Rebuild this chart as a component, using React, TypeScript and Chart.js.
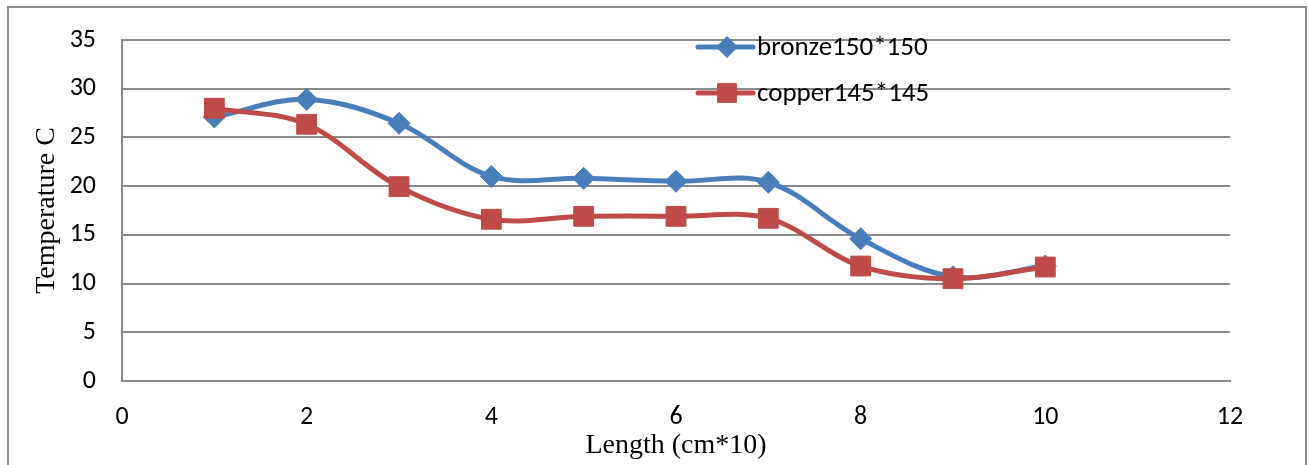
import React, { useEffect, useRef } from "react";
import { Chart, registerables } from "chart.js";

Chart.register(...registerables);

// Length positions along the bar (cm*10)
const lengths = [1, 2, 3, 4, 5, 6, 7, 8, 9, 10];
// Measured temperatures (°C)
const bronze = [27.1, 28.9, 26.45, 21.0, 20.8, 20.5, 20.4, 14.6, 10.7, 11.8];
const copper = [28.0, 26.35, 19.95, 16.6, 16.9, 16.9, 16.7, 11.8, 10.5, 11.7];

const seriesNames = ["bronze150*150", "copper145*145"];
const seriesColors = ["#4A7EBB", "#BE4B48"];

const xTicks = { min: 0, max: 12, step: 2 };
const yTicks = { min: 0, max: 35, step: 5 };

const xTitle = "Length (cm*10)";
const yTitle = "Temperature C";

const SANS = "Carlito, Lato, sans-serif";
const SERIF = "'Liberation Serif', 'Times New Roman', serif";

const CANVAS_W = 1296;
const CANVAS_H = 470;

// Legend drawn inside the plot area, near the top
const insideLegend = {
  id: "insideLegend",
  afterDatasetsDraw(chart: any) {
    const { ctx, chartArea } = chart;
    const x0 = chartArea.left + 576;
    const rows = [chartArea.top + 7, chartArea.top + 53];
    ctx.save();
    chart.data.datasets.forEach((ds: any, i: number) => {
      const y = rows[i];
      ctx.strokeStyle = ds.borderColor;
      ctx.lineWidth = ds.borderWidth;
      ctx.lineCap = "round";
      ctx.beginPath();
      ctx.moveTo(x0, y);
      ctx.lineTo(x0 + 55, y);
      ctx.stroke();
      ctx.fillStyle = ds.backgroundColor;
      const cx = x0 + 29;
      if (ds.pointStyle === "rectRot") {
        const r = ds.pointRadius;
        ctx.beginPath();
        ctx.moveTo(cx - r, y);
        ctx.lineTo(cx, y - r);
        ctx.lineTo(cx + r, y);
        ctx.lineTo(cx, y + r);
        ctx.closePath();
        ctx.fill();
      } else {
        const s = ds.pointRadius * Math.SQRT1_2;
        ctx.fillRect(cx - s, y - s, 2 * s, 2 * s);
      }
      ctx.fillStyle = "#000";
      ctx.font = `27px ${SANS}`;
      ctx.textBaseline = "middle";
      ctx.textAlign = "left";
      ctx.fillText(ds.label, x0 + 59, y + 1);
    });
    ctx.restore();
  },
};

export default function App() {
  const canvasRef = useRef<HTMLCanvasElement | null>(null);

  useEffect(() => {
    const canvas = canvasRef.current;
    if (!canvas) return;
    const toPoints = (vals: number[]) => lengths.map((x, i) => ({ x, y: vals[i] }));
    const makeSet = (i: number, vals: number[], style: string, radius: number, order: number) => ({
      label: seriesNames[i],
      data: toPoints(vals),
      borderColor: seriesColors[i],
      backgroundColor: seriesColors[i],
      borderWidth: 5,
      pointStyle: style,
      pointRadius: radius,
      pointHoverRadius: radius,
      pointBorderWidth: 1,
      pointBorderColor: seriesColors[i],
      pointBackgroundColor: seriesColors[i],
      tension: 0.35,
      cubicInterpolationMode: "default",
      order,
    });

    const chart = new Chart(canvas, {
      type: "line",
      data: {
        datasets: [
          makeSet(0, bronze, "rectRot", 11, 1),
          makeSet(1, copper, "rect", 14, 0),
        ] as any,
      },
      plugins: [insideLegend],
      options: {
        responsive: false,
        animation: false,
        devicePixelRatio: 1,
        layout: { padding: { top: 32, right: 75, left: 0, bottom: 0 } },
        plugins: {
          legend: { display: false },
          tooltip: { enabled: false },
        },
        scales: {
          x: {
            type: "linear",
            min: xTicks.min,
            max: xTicks.max,
            afterFit(scale: any) {
              scale.height = 97;
              scale.paddingLeft = 0;
              scale.paddingRight = 0;
            },
            ticks: {
              stepSize: xTicks.step,
              color: "#000",
              font: { family: SANS, size: 26 },
              padding: 21,
              maxRotation: 0,
            },
            grid: { display: false, drawTicks: false },
            border: { display: true, color: "#8a8a8a", width: 2 },
            title: {
              display: true,
              text: xTitle,
              color: "#000",
              font: { family: SERIF, size: 28, weight: "normal" },
              padding: { top: 0, bottom: 16 },
            },
          },
          y: {
            type: "linear",
            min: yTicks.min,
            max: yTicks.max,
            afterFit(scale: any) {
              scale.width = 113;
              scale.paddingTop = 0;
              scale.paddingBottom = 0;
            },
            ticks: {
              stepSize: yTicks.step,
              color: "#000",
              font: { family: SANS, size: 26 },
              padding: 26,
            },
            grid: { color: "#8a8a8a", lineWidth: 2, drawTicks: false },
            border: { display: true, color: "#8a8a8a", width: 2 },
            title: {
              display: true,
              text: yTitle,
              color: "#000",
              font: { family: SERIF, size: 28, weight: "normal" },
              padding: { top: 21, bottom: 0 },
            },
          },
        },
      } as any,
    });
    return () => chart.destroy();
  }, []);

  return (
    <div
      style={{
        position: "fixed",
        left: 7,
        top: 6,
        width: 1300,
        height: 480,
        boxSizing: "border-box",
        border: "2px solid #8c8c8c",
        background: "#fff",
      }}
    >
      <canvas
        ref={canvasRef}
        width={CANVAS_W}
        height={CANVAS_H}
        style={{ display: "block", width: CANVAS_W, height: CANVAS_H }}
      />
    </div>
  );
}
